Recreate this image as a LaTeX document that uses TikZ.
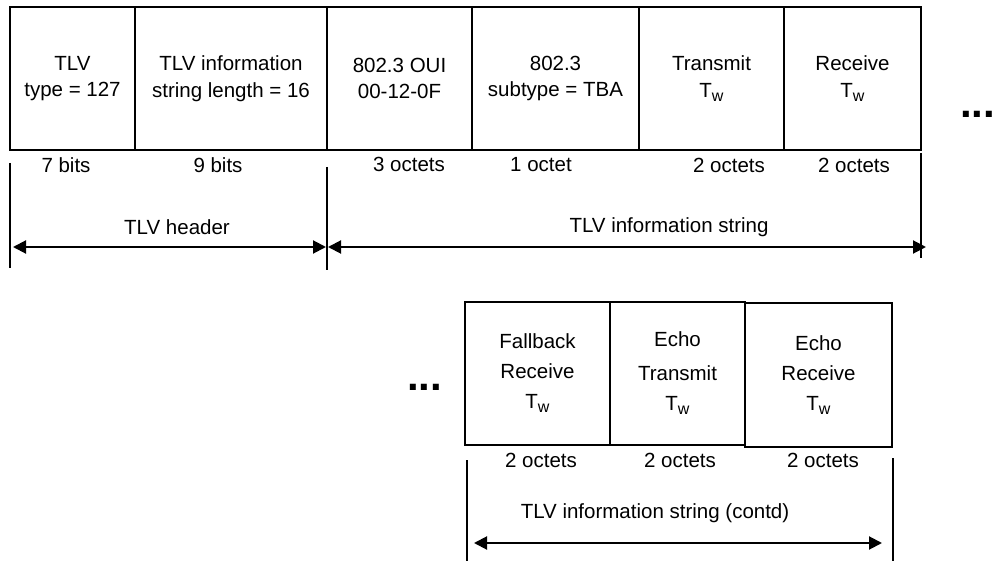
\documentclass[tikz,border=0pt]{standalone}
\usepackage{fontspec}
\setmainfont{Liberation Sans}
\usetikzlibrary{arrows.meta}
\newcommand{\Tw}{T\raisebox{-4pt}{\fontsize{16}{16}\selectfont w}}
\begin{document}
\begin{tikzpicture}[x=1pt,y=-1pt,
  fld/.style={draw, line width=2pt, inner sep=0pt, outer sep=0pt, align=center, font=\fontsize{20.5}{26.5}\selectfont},
  fldb/.style={fld, font=\fontsize{20.5}{30}\selectfont},
  lbl/.style={inner sep=0pt, font=\fontsize{20.5}{23}\selectfont},
  dots/.style={inner sep=0pt, anchor=base west, font=\fontsize{42}{42}\selectfont\bfseries},
  tick/.style={line width=2pt},
  dim/.style={line width=2pt, {Triangle[length=13pt,width=13pt]}-{Triangle[length=13pt,width=13pt]}},
]
\useasboundingbox (0,0) rectangle (999,561);

% top row of fields
\node[fld, minimum width=125, minimum height=143] (f1) at (72.5,78.5) {TLV\\type = 127};
\node[fld, minimum width=192, minimum height=143] (f2) at (231,78.5) {TLV information\\string length = 16};
\node[fld, minimum width=145, minimum height=143] (f3) at (399.5,78.5) {802.3 OUI\\00-12-0F};
\node[fld, minimum width=167, minimum height=143] (f4) at (555.5,78.5) {802.3\\subtype = TBA};
\node[fld, minimum width=145, minimum height=143] (f5) at (711.5,78.5) {Transmit\\\Tw};
\node[fld, minimum width=137, minimum height=143] (f6) at (852.5,78.5) {Receive\\\Tw};
\node[dots] (d1) at (960,118) {...\kern-6pt};

% sizes
\node[lbl] (s1) at (66,165) {7 bits};
\node[lbl] (s2) at (218,165) {9 bits};
\node[lbl] (s3) at (409,164) {3 octets};
\node[lbl] (s4) at (541,165) {1 octet};
\node[lbl] (s5) at (729,165) {2 octets};
\node[lbl] (s6) at (854,165) {2 octets};

% ticks and dimension arrows (top)
\coordinate (t1a) at (10,163); \coordinate (t1b) at (10,268);
\coordinate (t2a) at (327,167); \coordinate (t2b) at (327,270);
\coordinate (t3a) at (921,153); \coordinate (t3b) at (921,258);
\draw[tick] (t1a) -- (t1b);
\draw[tick] (t2a) -- (t2b);
\draw[tick] (t3a) -- (t3b);
\coordinate (a1) at (13,247); \coordinate (a2) at (326,247);
\coordinate (b1) at (328,247); \coordinate (b2) at (926,247);
\draw[dim] (a1) -- (a2);
\draw[dim] (b1) -- (b2);
\node[lbl] (h1) at (177,227) {TLV header};
\node[lbl] (h2) at (669,227) {TLV information string};

% bottom row of fields
\node[dots] (d2) at (407,391) {...\kern-6pt};
\node[fldb, minimum width=145, minimum height=143] (g1) at (537.5,373.5) {Fallback\\Receive\\\Tw};
\node[fldb, minimum width=135, minimum height=143] (g2) at (677.5,373.5) {Echo\\[4pt]Transmit\\\Tw};
\node[fldb, minimum width=147, minimum height=144] (g3) at (818.5,375) {Echo\\Receive\\\Tw};

\node[lbl] (r1) at (541,460) {2 octets};
\node[lbl] (r2) at (680,460) {2 octets};
\node[lbl] (r3) at (823,460) {2 octets};

\coordinate (u1a) at (467,460); \coordinate (u1b) at (467,561);
\coordinate (u2a) at (893,458); \coordinate (u2b) at (893,561);
\draw[tick] (u1a) -- (u1b);
\draw[tick] (u2a) -- (u2b);
\coordinate (c1) at (474,543); \coordinate (c2) at (882,543);
\draw[dim] (c1) -- (c2);
\node[lbl] (h3) at (655,513) {TLV information string (contd)};
\end{tikzpicture}
\end{document}
